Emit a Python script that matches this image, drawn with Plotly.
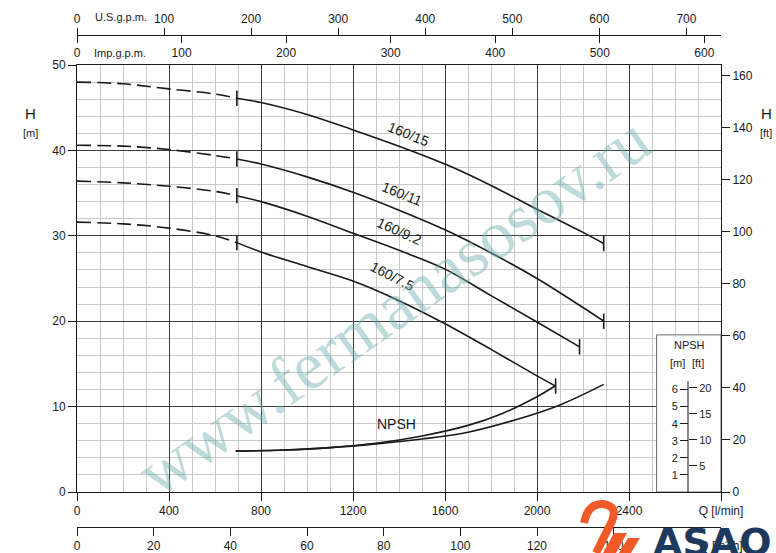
import plotly.graph_objects as go

# flow in l/min, head in m
q_dash = [0, 200, 400, 600, 695]
h15_dash = [48.0, 47.8, 47.2, 46.6, 46.1]
h11_dash = [40.6, 40.5, 40.1, 39.4, 39.0]
h92_dash = [36.4, 36.2, 35.8, 35.2, 34.7]
h75_dash = [31.6, 31.4, 30.9, 30.0, 29.2]

q15 = [695, 800, 1000, 1200, 1400, 1600, 1800, 2000, 2200, 2290]
h15 = [46.1, 45.6, 44.2, 42.4, 40.5, 38.4, 35.9, 33.1, 30.4, 29.1]
q11 = [695, 800, 1000, 1200, 1400, 1600, 1800, 2000, 2200, 2290]
h11 = [39.0, 38.4, 36.9, 35.1, 33.0, 30.7, 28.0, 25.0, 21.6, 20.0]
q92 = [695, 800, 1000, 1200, 1400, 1600, 1800, 2000, 2185]
h92 = [34.7, 34.0, 32.3, 30.3, 28.3, 26.1, 23.0, 19.9, 17.0]
q75 = [695, 800, 1000, 1200, 1400, 1600, 1800, 2000, 2081]
h75 = [29.2, 28.1, 26.4, 24.7, 22.4, 19.7, 16.7, 13.6, 12.4]

models = ["160/15", "160/11", "160/9.2", "160/7.5"]

# NPSH in m
q_npsh_a = [690, 900, 1100, 1300, 1500, 1700, 1850, 1990, 2080]
npsh_a = [2.40, 2.46, 2.60, 2.85, 3.28, 3.90, 4.60, 5.50, 6.22]
q_npsh_b = [690, 900, 1100, 1300, 1500, 1700, 1900, 2100, 2290]
npsh_b = [2.40, 2.46, 2.60, 2.82, 3.10, 3.50, 4.20, 5.10, 6.30]

q_ticks = [0, 400, 800, 1200, 1600, 2000, 2400, 2800]
q_labels = ["0", "400", "800", "1200", "1600", "2000", "2400", "Q [l/min]"]
m3h_ticks = [0, 20, 40, 60, 80, 100, 120, 140, 168]
m3h_labels = ["0", "20", "40", "60", "80", "100", "120", "140", "Q [m³/h]"]
imp_ticks = [0, 100, 200, 300, 400, 500, 600]
us_ticks = [0, 100, 200, 300, 400, 500, 600, 700]
h_ticks = [0, 10, 20, 30, 40, 50]
ft_ticks = [0, 20, 40, 60, 80, 100, 120, 140, 160]
npsh_m_ticks = [1, 2, 3, 4, 5, 6]
npsh_ft_ticks = [5, 10, 15, 20]

Q_MAX = 2800
H_MAX = 50
FT = 3.28084

W, H = 776, 553
ML, MR = 77, 55
FONT = "Liberation Sans Narrow, Arial Narrow, Liberation Sans, Arial"
INK = "#1a1a1a"


def px(x):
    return (x - ML) / (W - ML - MR)


def py(y):
    return (H - y) / H


fig = go.Figure()

curves = [
    (h15_dash, q15, h15),
    (h11_dash, q11, h11),
    (h92_dash, q92, h92),
    (h75_dash, q75, h75),
]
for (hd, qs, hs) in curves:
    fig.add_trace(go.Scatter(x=q_dash, y=hd, mode="lines", line_shape="spline",
                             line=dict(color=INK, width=1.6, dash="14px,6px"),
                             showlegend=False, hoverinfo="skip"))
    fig.add_trace(go.Scatter(x=qs, y=hs, mode="lines", line_shape="spline",
                             line=dict(color=INK, width=1.6),
                             showlegend=False, hoverinfo="skip"))
    fig.add_trace(go.Scatter(x=[qs[0], qs[-1]], y=[hs[0], hs[-1]], mode="markers",
                             marker=dict(symbol="line-ns", size=11,
                                         line=dict(color=INK, width=1.6)),
                             showlegend=False, hoverinfo="skip"))

for qs, ns in [(q_npsh_a, npsh_a), (q_npsh_b, npsh_b)]:
    fig.add_trace(go.Scatter(x=qs, y=ns, yaxis="y3", mode="lines", line_shape="spline",
                             line=dict(color=INK, width=1.6),
                             showlegend=False, hoverinfo="skip"))

# empty traces so the extra unit axes get drawn
for xa, ya in [("x2", "y"), ("x3", "y"), ("x4", "y"), ("x", "y2"), ("x", "y4")]:
    fig.add_trace(go.Scatter(x=[], y=[], xaxis=xa, yaxis=ya, showlegend=False,
                             hoverinfo="skip"))

tickfont = dict(family=FONT, size=12, color=INK)
small = dict(family=FONT, size=11, color=INK)
common = dict(showline=True, linecolor=INK, linewidth=1, ticks="outside",
              tickcolor=INK, ticklen=8, zeroline=False, tickfont=tickfont)

fig.update_layout(
    width=W, height=H, template="none",
    margin=dict(l=ML, r=MR, t=0, b=0),
    paper_bgcolor="white", plot_bgcolor="white",
    font=dict(family=FONT, size=12, color=INK),
    showlegend=False,
    xaxis=dict(range=[0, Q_MAX], tickmode="array", tickvals=q_ticks, ticktext=q_labels,
               mirror=True, showgrid=True, gridcolor="#3c3c3c", gridwidth=1,
               minor=dict(dtick=100, tick0=0, showgrid=True, gridcolor="#c9c9c9", ticks=""),
               **common),
    xaxis2=dict(overlaying="x", anchor="free", position=py(527), side="bottom",
                range=[0, Q_MAX * 0.06], tickmode="array", tickvals=m3h_ticks,
                ticktext=m3h_labels, showgrid=False, **common),
    xaxis3=dict(overlaying="x", anchor="free", position=py(35), side="bottom",
                range=[0, Q_MAX / 4.54609], tickmode="array", tickvals=imp_ticks,
                showgrid=False, **{**common, "ticklen": 7}),
    xaxis4=dict(overlaying="x", anchor="free", position=py(35), side="top",
                range=[0, Q_MAX / 3.78541], tickmode="array", tickvals=us_ticks,
                showgrid=False, **{**common, "ticklen": 7}),
    yaxis=dict(domain=[py(492), py(65)], range=[0, H_MAX], tickmode="array",
               tickvals=h_ticks, mirror=True, showgrid=True, gridcolor="#3c3c3c",
               minor=dict(dtick=2, tick0=0, showgrid=True, gridcolor="#c9c9c9", ticks=""),
               **common),
    yaxis2=dict(overlaying="y", side="right", anchor="x", range=[0, H_MAX * FT],
                tickmode="array", tickvals=ft_ticks, showgrid=False,
                **{**common, "showline": False}),
    yaxis3=dict(overlaying="y", anchor="free", position=px(688), side="left",
                range=[0, H_MAX / 2], tickmode="array", tickvals=npsh_m_ticks,
                showgrid=False, **{**common, "showline": False, "tickfont": small}),
    yaxis4=dict(overlaying="y", anchor="free", position=px(688), side="right",
                range=[0, H_MAX / 2 * FT], tickmode="array", tickvals=npsh_ft_ticks,
                showgrid=False, **{**common, "showline": False, "tickfont": small}),
)

# NPSH scale box
fig.add_shape(type="rect", xref="x", yref="y", x0=2520, x1=Q_MAX, y0=0, y1=18.4,
              line=dict(color="#6a6a6a", width=1), fillcolor="white", layer="between")
fig.add_shape(type="line", xref="paper", yref="y3", x0=px(688), x1=px(688), y0=0, y1=6.5,
              line=dict(color=INK, width=1))

ann = []
label_pos = [(1440, 41.9, 22), (1415, 34.9, 22), (1400, 30.6, 24), (1370, 25.3, 27)]
for name, (xq, yh, ang) in zip(models, label_pos):
    ann.append(dict(x=xq, y=yh, xref="x", yref="y", text=name, showarrow=False,
                    xanchor="center", yanchor="middle", textangle=ang,
                    font=dict(family=FONT, size=14, color=INK)))
ann.append(dict(x=1390, y=8.0, xref="x", yref="y", text="NPSH", showarrow=False,
                xanchor="center", yanchor="middle",
                font=dict(family=FONT, size=14, color=INK)))

texts = [
    ("H", 30, 113, 15), ("[m]", 30, 133, 11),
    ("H", 766, 113, 15), ("[ft]", 766, 133, 11),
    ("U.S.g.p.m.", 121, 17, 11), ("Imp.g.p.m.", 120, 53, 11),
    ("NPSH", 689, 345, 11), ("[m]", 677, 363, 11), ("[ft]", 698, 363, 11),
]
for t, x, y, s in texts:
    ann.append(dict(x=px(x), y=py(y), xref="paper", yref="paper", text=t,
                    xanchor="center", yanchor="middle",
                    showarrow=False, font=dict(family=FONT, size=s, color=INK)))

# watermark
ann.append(dict(x=px(393), y=py(306), xref="paper", yref="paper",
                text="www.fermanasosov.ru", showarrow=False, textangle=-35,
                xanchor="center", yanchor="middle",
                font=dict(family="Liberation Serif, DejaVu Serif, serif", size=68,
                          color="rgba(110,172,172,0.45)")))

# logo
ann.append(dict(x=px(712), y=py(542), xref="paper", yref="paper", text="<b>ASAO</b>",
                xanchor="center", yanchor="middle",
                showarrow=False, font=dict(family="DejaVu Sans, Verdana", size=38,
                                           color="#1d3a5e")))
fig.update_layout(annotations=ann)


def pp(x, y):
    return f"{px(x):.4f},{py(y):.4f}"


orange = "#f05a28"
fig.add_shape(type="path", xref="paper", yref="paper",
              path=f"M {pp(584, 523)} Q {pp(588, 503)} {pp(603, 504)} "
                   f"Q {pp(618, 506)} {pp(612, 521)} L {pp(596, 553)}",
              line=dict(color=orange, width=8), fillcolor="rgba(0,0,0,0)")
fig.add_shape(type="path", xref="paper", yref="paper",
              path=f"M {pp(603, 553)} L {pp(614, 533)} L {pp(627, 533)} L {pp(616, 553)} Z",
              line=dict(width=0), fillcolor=orange)
fig.add_shape(type="path", xref="paper", yref="paper",
              path=f"M {pp(619, 553)} L {pp(628, 538)} L {pp(640, 538)} L {pp(631, 553)} Z",
              line=dict(width=0), fillcolor=orange)

fig.write_html("out.html", config={"displayModeBar": False},
               post_script="document.body.style.margin='0';")
